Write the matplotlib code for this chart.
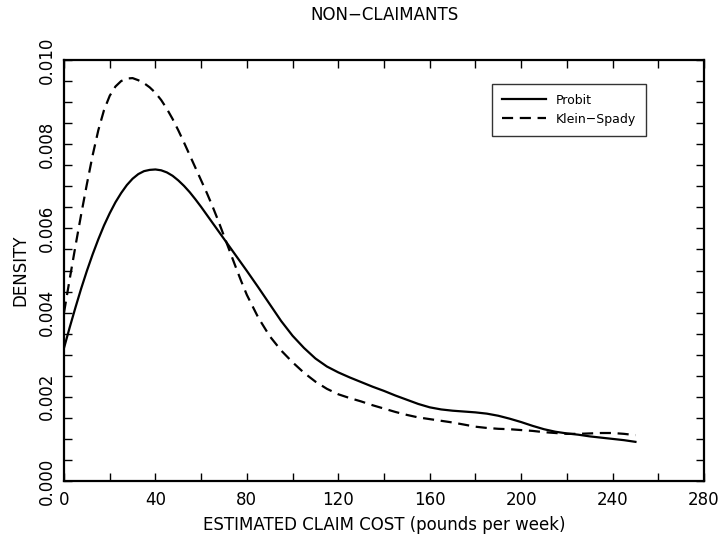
import numpy as np
import matplotlib
matplotlib.use("Agg")
import matplotlib.pyplot as plt
from matplotlib.ticker import MultipleLocator, FormatStrFormatter

# claim cost grid (pounds per week): finer near the peaks
cost = [0, 2.5, 5, 7.5, 10, 12.5, 15, 17.5, 20, 22.5, 25, 27.5, 30, 32.5, 35, 37.5,
        40, 42.5, 45, 47.5, 50, 52.5, 55, 57.5, 60, 62.5, 65, 67.5, 70, 72.5, 75,
        77.5, 80, 85, 90, 95, 100, 105, 110, 115, 120, 125, 130, 135, 140, 145,
        150, 155, 160, 165, 170, 175, 180, 185, 190, 195, 200, 205, 210, 215, 220,
        225, 230, 235, 240, 245, 250]

probit = [0.00316, 0.00365, 0.00412, 0.00457, 0.00499, 0.00538, 0.00574, 0.00607,
          0.00636, 0.00662, 0.00684, 0.00703, 0.00718, 0.00729, 0.00736, 0.00739,
          0.00740, 0.00738, 0.00733, 0.00725, 0.00714, 0.00701, 0.00686, 0.00669,
          0.00651, 0.00632, 0.00613, 0.00594, 0.00575, 0.00556, 0.00537, 0.00518,
          0.00499, 0.00460, 0.00420, 0.00380, 0.00345, 0.00316, 0.00291, 0.00272,
          0.00258, 0.00246, 0.00235, 0.00224, 0.00214, 0.00203, 0.00193, 0.00183,
          0.00175, 0.00170, 0.00167, 0.00165, 0.00163, 0.00160, 0.00155, 0.00148,
          0.00140, 0.00131, 0.00123, 0.00117, 0.00113, 0.00110, 0.00106, 0.00103,
          0.00100, 0.00097, 0.00093]

klein_spady = [0.00400, 0.00480, 0.00558, 0.00633, 0.00705, 0.00773, 0.00833, 0.00881,
               0.00915, 0.00937, 0.00950, 0.00956, 0.00957, 0.00952, 0.00945, 0.00935,
               0.00922, 0.00905, 0.00884, 0.00860, 0.00833, 0.00804, 0.00774, 0.00744,
               0.00714, 0.00684, 0.00652, 0.00618, 0.00582, 0.00546, 0.00510, 0.00475,
               0.00442, 0.00388, 0.00344, 0.00310, 0.00282, 0.00257, 0.00236, 0.00219,
               0.00206, 0.00197, 0.00189, 0.00180, 0.00172, 0.00164, 0.00157, 0.00151,
               0.00147, 0.00143, 0.00139, 0.00134, 0.00129, 0.00126, 0.00124, 0.00123,
               0.00121, 0.00119, 0.00116, 0.00114, 0.00112, 0.00112, 0.00113, 0.00114,
               0.00114, 0.00112, 0.00109]

plt.rcParams['font.family'] = ['DejaVu Sans']

fig = plt.figure(figsize=(7.2, 5.44), dpi=100)
ax = fig.add_axes([0.0889, 0.1158, 0.8889, 0.7739])

ax.plot(cost, probit, color='black', lw=1.6, label='Probit')
ax.plot(cost, klein_spady, color='black', lw=1.6, dashes=(5, 3), label='Klein\u2212Spady')

ax.set_xlim(0, 280)
ax.set_ylim(0, 0.010)
ax.xaxis.set_major_locator(MultipleLocator(40))
ax.xaxis.set_minor_locator(MultipleLocator(20))
ax.yaxis.set_major_locator(MultipleLocator(0.002))
ax.yaxis.set_minor_locator(MultipleLocator(0.0005))
ax.yaxis.set_major_formatter(FormatStrFormatter('%.3f'))

ax.tick_params(which='both', direction='in', top=True, right=True,
               length=6, width=1.0, labelsize=12, colors='black')
ax.tick_params(axis='x', pad=7)
ax.tick_params(axis='y', pad=6)
for lab in ax.get_yticklabels():
    lab.set_rotation(90)
    lab.set_va('center')

for sp in ax.spines.values():
    sp.set_linewidth(1.6)

ax.set_title('NON\u2212CLAIMANTS', fontsize=12, pad=29)
ax.set_xlabel('ESTIMATED CLAIM COST (pounds per week)', fontsize=12, labelpad=5)
ax.set_ylabel('DENSITY', fontsize=12, labelpad=6)

leg = ax.legend(loc='upper right', bbox_to_anchor=(0.919, 0.959), fontsize=9,
                frameon=True, fancybox=False, handlelength=3.5, handletextpad=0.8,
                borderpad=0.8, labelspacing=0.5)
leg.get_frame().set_edgecolor('black')
leg.get_frame().set_linewidth(1.0)

fig.savefig('out.png', dpi=100)
